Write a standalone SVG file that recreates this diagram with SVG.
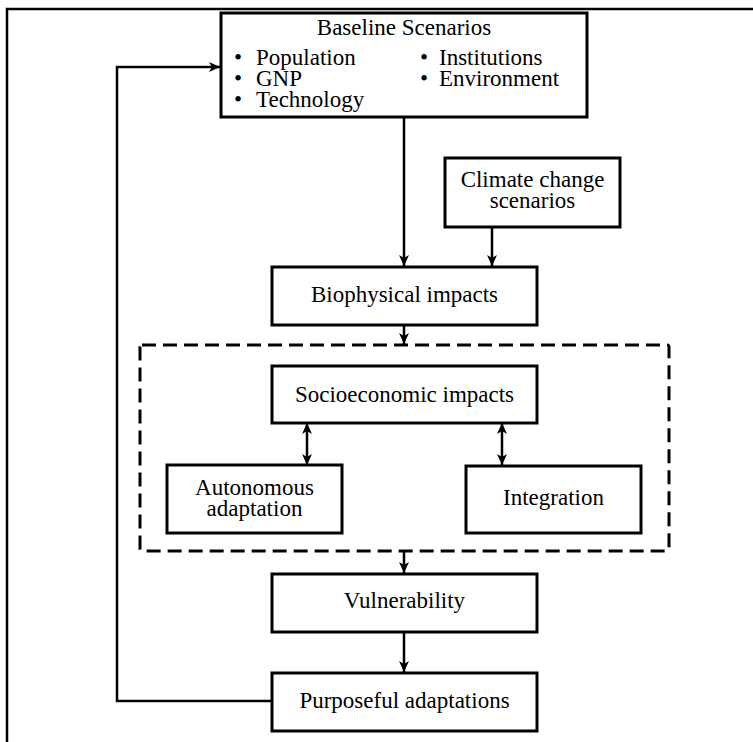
<svg xmlns="http://www.w3.org/2000/svg" width="753" height="742" viewBox="0 0 753 742" font-family="'Liberation Serif', 'DejaVu Serif', serif">
<style>
text{font-family:'Liberation Serif','DejaVu Serif',serif;font-size:23px;fill:#000}
.c{text-anchor:middle}
.box{fill:#fff;stroke:#000;stroke-width:3}
.ln{fill:none;stroke:#000;stroke-width:2.5}
.arr{marker-end:url(#ah)}
.dbl{marker-start:url(#ahs);marker-end:url(#ah)}
</style>
<defs>
<marker id="ah" markerWidth="12" markerHeight="10" refX="11" refY="5" orient="auto" markerUnits="userSpaceOnUse">
<path d="M0,0 L11,5 L0,10 L3,5 z" fill="#000"/>
</marker>
<marker id="ahs" markerWidth="12" markerHeight="10" refX="1" refY="5" orient="auto" markerUnits="userSpaceOnUse">
<path d="M12,0 L1,5 L12,10 L9,5 z" fill="#000"/>
</marker>
</defs>
<rect width="753" height="742" fill="#fff"/>
<g id="frame">
<path d="M7,742 L7,9 L753,9" fill="none" stroke="#000" stroke-width="2.5"/>
</g>
<g id="connectors">
<path class="ln arr" d="M404,117 L404,266"/>
<path class="ln arr" d="M492,227 L492,266"/>
<path class="ln arr" d="M404,325 L404,344"/>
<path class="ln dbl" d="M307,423 L307,465"/>
<path class="ln dbl" d="M502,423 L502,465"/>
<path class="ln arr" d="M404,551 L404,573"/>
<path class="ln arr" d="M404,632 L404,672"/>
<path class="ln arr" d="M272,701 L117,701 L117,67 L220,67"/>
</g>
<g id="dashed-group">
<rect x="140" y="345" width="529" height="206" rx="2" fill="none" stroke="#000" stroke-width="3" stroke-dasharray="14,7"/>
</g>
<g id="baseline">
<rect class="box" x="221" y="13" width="366" height="104"/>
<text class="c" x="404" y="35">Baseline Scenarios</text>
<text y="65"><tspan x="234">•</tspan><tspan x="256">Population</tspan><tspan x="420">•</tspan><tspan x="439">Institutions</tspan></text>
<text y="86"><tspan x="234">•</tspan><tspan x="256">GNP</tspan><tspan x="420">•</tspan><tspan x="439">Environment</tspan></text>
<text y="107"><tspan x="234">•</tspan><tspan x="256">Technology</tspan></text>
</g>
<g id="climate">
<rect class="box" x="445" y="158" width="175" height="69"/>
<text class="c" x="532.5" y="187">Climate change<tspan x="532.5" dy="21">scenarios</tspan></text>
</g>
<g id="biophysical">
<rect class="box" x="272" y="267" width="265" height="58"/>
<text class="c" x="404.5" y="302">Biophysical impacts</text>
</g>
<g id="socioeconomic">
<rect class="box" x="272" y="366" width="265" height="57"/>
<text class="c" x="404.5" y="402">Socioeconomic impacts</text>
</g>
<g id="autonomous">
<rect class="box" x="167" y="465" width="175" height="68"/>
<text class="c" x="254.5" y="495">Autonomous<tspan x="254.5" dy="21">adaptation</tspan></text>
</g>
<g id="integration">
<rect class="box" x="466" y="466" width="175" height="67"/>
<text class="c" x="553.5" y="505">Integration</text>
</g>
<g id="vulnerability">
<rect class="box" x="272" y="574" width="265" height="58"/>
<text class="c" x="404.5" y="608">Vulnerability</text>
</g>
<g id="purposeful">
<rect class="box" x="272" y="673" width="265" height="58"/>
<text class="c" x="404.5" y="708">Purposeful adaptations</text>
</g>
</svg>
